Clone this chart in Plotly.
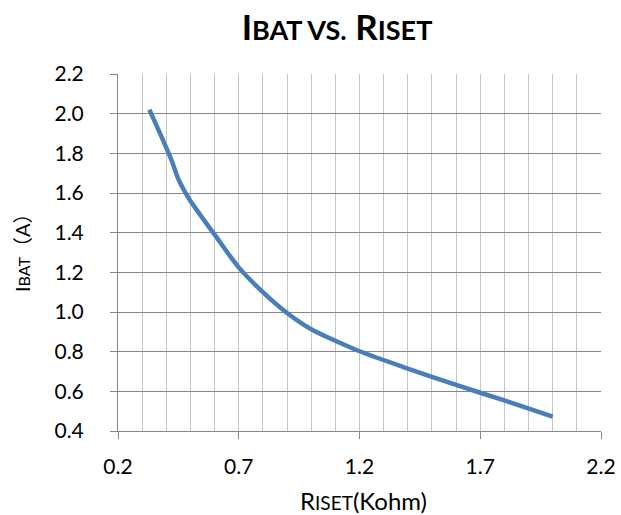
import plotly.graph_objects as go

# Data
riset_kohm = [0.33, 0.42, 0.45, 0.48, 0.5, 0.6, 0.7, 0.8, 0.9, 1.0, 1.1, 1.2, 1.4, 1.6, 1.8, 2.0]
ibat_a = [2.02, 1.77, 1.67, 1.60, 1.56, 1.39, 1.225, 1.10, 0.995, 0.913, 0.855, 0.802, 0.715, 0.632, 0.554, 0.473]

x_tick_vals = [0.2, 0.7, 1.2, 1.7, 2.2]
y_tick_vals = [0.4, 0.6, 0.8, 1.0, 1.2, 1.4, 1.6, 1.8, 2.0, 2.2]

FONT = "Lato, 'Noto Sans CJK SC', sans-serif"
DARK = "#878787"
LIGHT = "#c6c6c6"

fig = go.Figure()
fig.add_trace(go.Scatter(
    x=riset_kohm, y=ibat_a, mode="lines",
    line=dict(color="#4a7ebb", width=4.5, shape="spline", smoothing=0.8),
    showlegend=False, hoverinfo="skip",
))

fig.update_layout(
    width=621, height=515,
    margin=dict(l=118, r=20, t=74, b=84, autoexpand=False),
    paper_bgcolor="white", plot_bgcolor="white",
    font=dict(family=FONT, color="#000000", size=21),
    title=dict(
        text="I<span style='font-size:27px'>BAT VS.</span> R<span style='font-size:27px'>ISET</span>",
        x=337 / 621, xanchor="center", xref="container",
        y=1 - 28 / 515, yanchor="middle", yref="container",
        font=dict(family=FONT, size=35, color="#000000", weight="bold"),
        automargin=False,
    ),
    xaxis=dict(
        range=[0.2, 2.2], tickvals=x_tick_vals, ticktext=[f"{v:.1f}" for v in x_tick_vals],
        showline=True, linecolor=DARK, linewidth=1,
        ticks="outside", ticklen=7, tickcolor=DARK, tickwidth=1,
        showgrid=True, gridcolor=LIGHT, gridwidth=1,
        minor=dict(dtick=0.1, tick0=0.2, showgrid=True, gridcolor=LIGHT, gridwidth=1, ticks=""),
        zeroline=False, mirror=False, ticklabelstandoff=10, automargin=False,
        tickfont=dict(size=21, family=FONT),
    ),
    yaxis=dict(
        range=[0.4, 2.2], tickvals=y_tick_vals, ticktext=[f"{v:.1f}" for v in y_tick_vals],
        showline=True, linecolor=DARK, linewidth=1,
        ticks="outside", ticklen=7, tickcolor=DARK, tickwidth=1,
        showgrid=True, gridcolor=DARK, gridwidth=1,
        zeroline=False, ticklabelstandoff=22, automargin=False,
        tickfont=dict(size=21, family=FONT),
    ),
    annotations=[
        dict(text="R<span style='font-size:19px'>ISET</span>(Kohm)",
             xref="paper", yref="paper", x=(363 - 118) / 483, y=-(500 - 431) / 357,
             xanchor="center", yanchor="middle", showarrow=False,
             font=dict(size=24, family=FONT)),
        dict(text="I<span style='font-size:16px'>BAT</span>（A）",
             xref="paper", yref="paper", x=-(118 - 22) / 483, y=(431 - 248) / 357,
             xanchor="center", yanchor="middle", showarrow=False, textangle=-90,
             font=dict(size=20, family=FONT)),
    ],
)

fig.write_html("out.html", config={"displayModeBar": False},
               post_script="document.body.style.margin='0';")
